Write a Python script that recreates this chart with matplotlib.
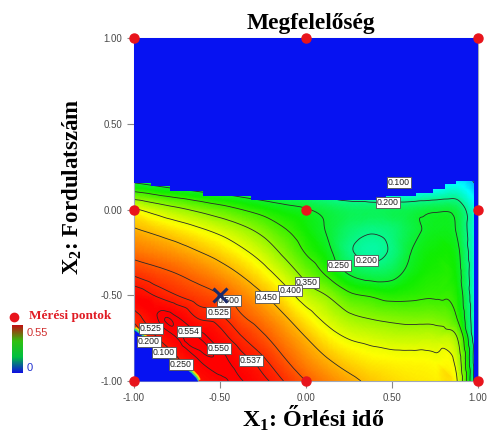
import numpy as np
import matplotlib
matplotlib.use("Agg")
import matplotlib.pyplot as plt
import matplotlib.tri as mtri
from matplotlib.colors import LinearSegmentedColormap
from matplotlib.lines import Line2D
from matplotlib.ticker import FormatStrFormatter

plt.rcParams['axes.unicode_minus'] = False

# ---------------- data ----------------
x1_grid = [-1.0, -0.875, -0.75, -0.625, -0.5, -0.375, -0.25, -0.125, 0.0,
           0.125, 0.25, 0.375, 0.5, 0.625, 0.75, 0.875, 1.0]
x2_grid = [0.25, 0.125, 0.0, -0.125, -0.25, -0.375, -0.5, -0.625, -0.75, -0.875, -1.0]

# desirability (rows follow x2_grid, columns follow x1_grid)
d_row_p0250 = [0.16, 0.15, 0.138, 0.127, 0.117, 0.108, 0.099, 0.09, 0.08, 0.07, 0.06, 0.05, 0.045, 0.045, 0.05, 0.06, 0.05]
d_row_p0125 = [0.279, 0.262, 0.246, 0.232, 0.22, 0.21, 0.20, 0.19, 0.18, 0.162, 0.145, 0.132, 0.124, 0.126, 0.136, 0.155, 0.10]
d_row_0000 = [0.405, 0.381, 0.36, 0.34, 0.32, 0.30, 0.281, 0.265, 0.253, 0.237, 0.225, 0.224, 0.228, 0.234, 0.243, 0.235, 0.14]
d_row_m0125 = [0.456, 0.442, 0.427, 0.41, 0.39, 0.366, 0.338, 0.305, 0.275, 0.247, 0.217, 0.203, 0.212, 0.241, 0.26, 0.248, 0.14]
d_row_m0250 = [0.488, 0.478, 0.467, 0.452, 0.434, 0.41, 0.38, 0.34, 0.297, 0.262, 0.207, 0.188, 0.207, 0.254, 0.273, 0.262, 0.14]
d_row_m0375 = [0.522, 0.511, 0.50, 0.486, 0.469, 0.447, 0.418, 0.38, 0.335, 0.293, 0.248, 0.23, 0.236, 0.268, 0.282, 0.27, 0.14]
d_row_m0500 = [0.5455, 0.536, 0.525, 0.514, 0.501, 0.479, 0.453, 0.419, 0.378, 0.348, 0.309, 0.296, 0.286, 0.291, 0.295, 0.282, 0.14]
d_row_m0625 = [0.53, 0.549, 0.55, 0.535, 0.528, 0.503, 0.481, 0.453, 0.418, 0.385, 0.358, 0.345, 0.337, 0.333, 0.332, 0.30, 0.14]
d_row_m0750 = [0.51, 0.535, 0.55, 0.5542, 0.5435, 0.527, 0.506, 0.479, 0.451, 0.42, 0.398, 0.388, 0.38, 0.379, 0.378, 0.355, 0.14]
d_row_m0875 = [0.49, 0.515, 0.535, 0.55, 0.553, 0.542, 0.528, 0.502, 0.475, 0.452, 0.432, 0.419, 0.414, 0.412, 0.408, 0.385, 0.14]
d_row_m1000 = [0.47, 0.50, 0.525, 0.54, 0.548, 0.5505, 0.541, 0.524, 0.50, 0.479, 0.46, 0.443, 0.432, 0.425, 0.42, 0.405, 0.14]

# extra readings along the crest of the ridge
ridge_x1 = [-0.9375, -0.8125, -0.6875, -0.5625, -0.4375]
ridge_x2 = [-0.537, -0.636, -0.736, -0.836, -0.935]
ridge_d = [0.5495, 0.5543, 0.5558, 0.5545, 0.5512]

contour_levels = [0.1, 0.2, 0.25, 0.3, 0.35, 0.4, 0.45, 0.5, 0.525, 0.537, 0.55, 0.554]
label_levels = [0.1, 0.2, 0.25, 0.2, 0.35, 0.4, 0.45, 0.5, 0.525, 0.554, 0.55, 0.537]
label_x1 = [0.541, 0.473, 0.178, 0.343, 0.023, -0.08, -0.215, -0.44, -0.506, -0.68, -0.525, -0.331]
label_x2 = [0.132, 0.064, -0.34, -0.334, -0.402, -0.466, -0.496, -0.52, -0.595, -0.71, -0.826, -0.892]
# labels of the steep edge next to the zero region in the lower-left corner
edge_label_levels = [0.525, 0.2, 0.1, 0.25]
edge_label_x1 = [-0.903, -0.913, -0.826, -0.729]
edge_label_x2 = [-0.696, -0.770, -0.834, -0.904]

# design points (Mérési pontok) and the optimum
design_x1 = [-1, 0, 1, -1, 0, 1, -1, 0, 1]
design_x2 = [1, 1, 1, 0, 0, 0, -1, -1, -1]
optimum_x1 = [-0.5]
optimum_x2 = [-0.5]

# regions where desirability is zero
top_edge_x1 = [-1.0, -0.90, -0.79, -0.60, -0.32, 0.465, 0.64, 0.736, 0.81, 0.87, 1.0]
top_edge_x2 = [0.152, 0.136, 0.107, 0.078, 0.054, 0.078, 0.097, 0.117, 0.146, 0.165, 0.165]
corner_edge_x1 = [-1.0, -0.96, -0.93, -0.884, -0.85, -0.806, -0.76, -0.709, -0.67, -0.641, -0.63]
corner_edge_x2 = [-0.70, -0.73, -0.76, -0.797, -0.82, -0.855, -0.89, -0.921, -0.95, -0.98, -1.0]
right_strip_x1 = 0.975

cbar_min, cbar_max = 0.0, 0.55

# ---------------- figure ----------------
W, H = 488, 438
fig = plt.figure(figsize=(W / 100, H / 100), dpi=100)
ax = fig.add_axes([134 / W, 1 - 381 / H, 344 / W, 343 / H])

BLUE = '#0612f2'
cmap = LinearSegmentedColormap.from_list(
    'desir', [(0.0, '#0000ff'), (0.25, '#00ffff'), (0.5, '#10ee00'),
              (0.75, '#ffff00'), (1.0, '#ff0000')])

Z = np.array([d_row_p0250, d_row_p0125, d_row_0000, d_row_m0125, d_row_m0250,
              d_row_m0375, d_row_m0500, d_row_m0625, d_row_m0750, d_row_m0875,
              d_row_m1000])
XX, YY = np.meshgrid(x1_grid, x2_grid)
px = np.concatenate([XX.ravel(), ridge_x1])
py = np.concatenate([YY.ravel(), ridge_x2])
pz = np.concatenate([Z.ravel(), ridge_d])
tri = mtri.Triangulation(px, py)
interp = mtri.CubicTriInterpolator(tri, pz, kind='geom')
refiner = mtri.UniformTriRefiner(tri)
tri_r, z_r = refiner.refine_field(pz, triinterpolator=interp, subdiv=4)

ax.set_facecolor(BLUE)
ax.tripcolor(tri_r, z_r, shading='gouraud', cmap=cmap, vmin=cbar_min, vmax=cbar_max, zorder=1)
cs = ax.tricontour(tri_r, z_r, levels=contour_levels, colors='#2a2a2a', linewidths=0.6, zorder=2)

# zero-desirability regions (with the steep coloured rim of the corner)
ax.plot(corner_edge_x1, corner_edge_x2, color='#f2d800', lw=5, zorder=2.8, solid_capstyle='butt')
ax.plot(corner_edge_x1, corner_edge_x2, color='#30d890', lw=2.4, zorder=2.9, solid_capstyle='butt')
ax.fill_between(top_edge_x1, top_edge_x2, 1.0, step='post', color=BLUE, lw=0, zorder=3)
ax.fill_between(corner_edge_x1, -1.0, corner_edge_x2, color=BLUE, lw=0, zorder=3)
ax.axvspan(right_strip_x1, 1.0, color=BLUE, lw=0, zorder=3)

box = dict(boxstyle='square,pad=0.12', fc='white', ec='#505050', lw=0.6)
# contour labels: placed on the nearest point of the contour of that level
for lev, lx, ly in zip(label_levels, label_x1, label_x2):
    li = contour_levels.index(lev)
    segs = [s for s in cs.allsegs[li] if len(s)]
    if segs:
        pts = np.vstack(segs)
        k = np.argmin((pts[:, 0] - lx) ** 2 + (pts[:, 1] - ly) ** 2)
        lx, ly = pts[k, 0], pts[k, 1]
    ax.text(lx, ly, f'{lev:.3f}', fontfamily='Liberation Sans', fontsize=6.3,
            color='#202020', ha='center', va='center', zorder=5, bbox=box)
for lev, lx, ly in zip(edge_label_levels, edge_label_x1, edge_label_x2):
    ax.text(lx, ly, f'{lev:.3f}', fontfamily='Liberation Sans', fontsize=6.3,
            color='#202020', ha='center', va='center', zorder=5, bbox=box)

# design points and optimum
ax.plot(design_x1, design_x2, 'o', color='#e8141c', ms=6.5, mec='#e8141c',
        clip_on=False, zorder=7, ls='none')
ax.plot(optimum_x1, optimum_x2, 'x', color='#1a2a6c', ms=10, mew=2.2, zorder=8)

ax.set_xlim(-1, 1)
ax.set_ylim(-1, 1)
ticks = [-1.0, -0.5, 0.0, 0.5, 1.0]
ax.set_xticks(ticks)
ax.set_yticks(ticks)
ax.xaxis.set_major_formatter(FormatStrFormatter('%.2f'))
ax.yaxis.set_major_formatter(FormatStrFormatter('%.2f'))
ax.tick_params(length=5, width=0.8, color='#888888', labelcolor='#4a4a4a',
               labelsize=7, pad=3.5)
for lab in ax.get_xticklabels() + ax.get_yticklabels():
    lab.set_fontfamily('Liberation Sans')
for sp in ax.spines.values():
    sp.set_color('#a0a8b8')
    sp.set_linewidth(0.8)

serif = 'Liberation Serif'
fig.text(311 / W, 1 - 28.5 / H, 'Megfelelőség', fontfamily=serif, fontweight='bold',
         fontsize=16.8, ha='center', va='baseline')
fig.text(313 / W, 1 - 427 / H, r'X$_\mathregular{1}$: Őrlési idő', fontfamily=serif,
         fontweight='bold', fontsize=17.3, ha='center', va='baseline')
fig.text(72 / W, 1 - 187 / H, r'X$_\mathregular{2}$: Fordulatszám', fontfamily=serif,
         fontweight='bold', fontsize=16.5, rotation=90, ha='center', va='center')

# legend: design points marker + colour scale
fig.add_artist(Line2D([14 / W], [1 - 317 / H], marker='o', color='#e8141c', ms=6,
                      transform=fig.transFigure, ls='none'))
fig.text(29 / W, 1 - 316 / H, 'Mérési pontok', fontfamily=serif, fontweight='bold',
         fontsize=9.5, color='#e01c24', ha='left', va='center')
cax = fig.add_axes([12 / W, 1 - 373 / H, 11 / W, 48 / H])
legend_cmap = LinearSegmentedColormap.from_list('leg', ['#1010e0', '#00c040', '#30c010', '#c01010'])
cax.imshow(np.linspace(cbar_max, cbar_min, 64).reshape(-1, 1), aspect='auto', cmap=legend_cmap,
           vmin=cbar_min, vmax=cbar_max, extent=[0, 1, 0, 1])
cax.set_axis_off()
fig.text(27 / W, 1 - 333 / H, f'{cbar_max:.2f}', fontfamily='Liberation Sans', fontsize=8,
         color='#d03030', ha='left', va='center')
fig.text(27 / W, 1 - 368 / H, f'{cbar_min:g}', fontfamily='Liberation Sans', fontsize=8,
         color='#2030d0', ha='left', va='center')

fig.savefig('out.png', dpi=100)
